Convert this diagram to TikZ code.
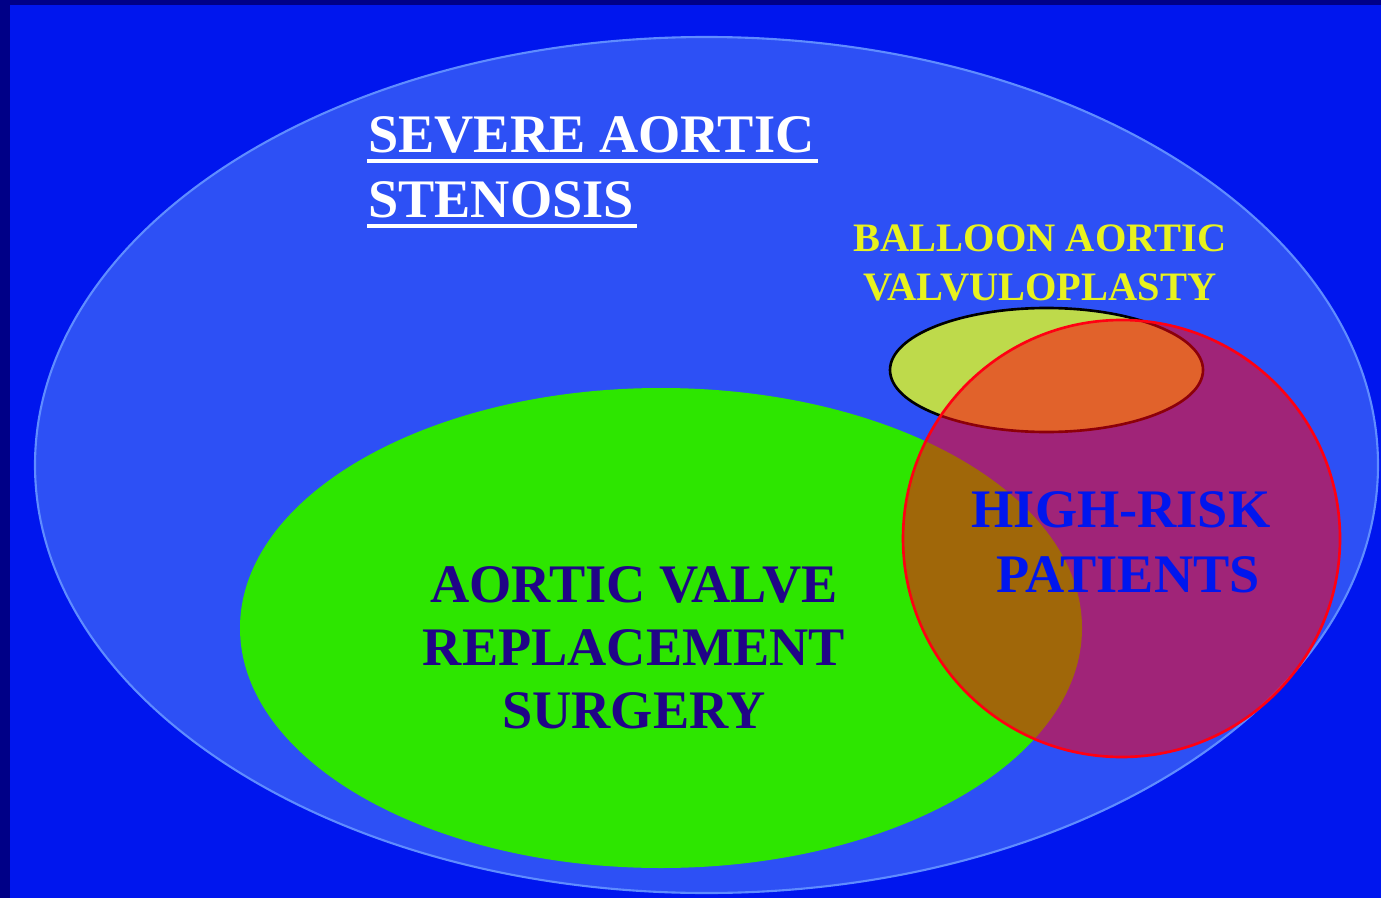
\documentclass[tikz,border=0pt]{standalone}
\usepackage{fontspec}
\setmainfont{Liberation Serif}
\usepackage{tikz}
\usetikzlibrary{calc}
\definecolor{frame}{RGB}{0,0,135}
\definecolor{slide}{RGB}{0,22,238}
\definecolor{severe}{RGB}{45,80,245}
\definecolor{severeline}{RGB}{95,140,255}
\definecolor{surgery}{RGB}{45,230,0}
\definecolor{balloon}{RGB}{190,218,75}
\definecolor{risk}{RGB}{255,0,18}
\definecolor{navy}{RGB}{32,4,135}
\definecolor{lemon}{RGB}{232,242,30}

\begin{document}
\begin{tikzpicture}[x=0.02cm, y=-0.02cm,
  bigtxt/.style={anchor=base, inner sep=0pt, font=\fontsize{30.9}{36}\selectfont\bfseries},
  smalltxt/.style={anchor=base, inner sep=0pt, font=\fontsize{23}{27}\selectfont\bfseries, text=lemon},
  uline/.style={white, line width=1.8pt},
]
\useasboundingbox (0,0) rectangle (1381,898);
% Slide
\fill[frame] (0,0) rectangle (1381,898);
\fill[slide] (10,5) rectangle (1381,898);

% Severe aortic stenosis
\filldraw[fill=severe, draw=severeline, line width=1.2pt] (706.5,465) ellipse [x radius=671.5, y radius=428];

% Aortic valve replacement
\fill[surgery] (661,628) ellipse [x radius=421, y radius=240];

% Balloon valvuloplasty
\filldraw[fill=balloon, draw=black, line width=1.5pt] (1046.5,370) ellipse [x radius=156.5, y radius=62];

% High-risk patients
\fill[risk, fill opacity=0.55] (1121.5,538.5) circle [radius=218.5];
\draw[risk, line width=1.5pt] (1121.5,538.5) circle [radius=218.5];

% Labels
\node[bigtxt, anchor=base west, text=white] (sev1) at (368,153) {SEVERE AORTIC};
\node[bigtxt, anchor=base west, text=white] (sev2) at (368,218) {STENOSIS};
\draw[uline] ($(sev1.base west)+(-1,8)$) -- ($(sev1.base east)+(3,8)$);
\draw[uline] ($(sev2.base west)+(-1,8)$) -- ($(sev2.base east)+(3,8)$);

\node[smalltxt] (bal1) at (1040,252) {BALLOON AORTIC};
\node[smalltxt] (bal2) at (1040,300) {VALVULOPLASTY};

\node[bigtxt, text=navy] (avr1) at (634,602) {AORTIC VALVE};
\node[bigtxt, text=navy] (avr2) at (634,665) {REPLACEMENT};
\node[bigtxt, text=navy] (avr3) at (634,728) {SURGERY};

\node[bigtxt, text=slide] (hr1) at (1121,527) {HIGH-RISK};
\node[bigtxt, text=slide] (hr2) at (1128,592) {PATIENTS};
\end{tikzpicture}
\end{document}
